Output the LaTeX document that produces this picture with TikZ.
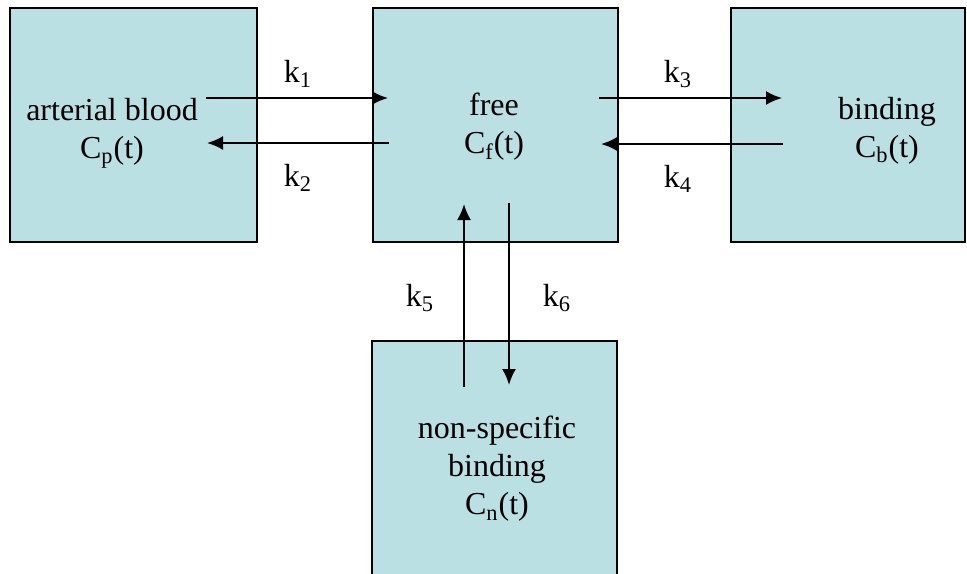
\documentclass[tikz,border=0pt]{standalone}
\usepackage{fontspec}
\setmainfont{Liberation Serif}
\usetikzlibrary{arrows.meta}
\definecolor{boxfill}{RGB}{187,224,227}

\begin{document}
\begin{tikzpicture}[x=0.5pt,y=-0.5pt,>={Latex[length=8pt,width=7pt]},
  box/.style={draw,line width=0.9pt,fill=boxfill,inner sep=0pt},
  lbl/.style={font=\fontsize{16}{19}\selectfont,align=center,inner sep=0pt},
  flow/.style={->,line width=1.1pt}]
  \useasboundingbox (0,0) rectangle (967,573);
  \clip (0,0) rectangle (967,573);
  % 房室
  \node[box,minimum width=123.5pt,minimum height=117pt] (blood) at (133.5,125) {};
  \node[box,minimum width=122.5pt,minimum height=117pt] (free) at (495.5,125) {};
  \node[box,minimum width=117pt,minimum height=117pt] (bound) at (848,125) {};
  \node[box,minimum width=122.5pt,minimum height=130pt] (nonspec) at (494.5,471) {};
  % 文字
  \node[lbl] (bloodtxt) at (112,133) {arterial blood\\C\textsubscript{p}(t)};
  \node[lbl] (freetxt) at (494,127) {free\\C\textsubscript{f}(t)};
  \node[lbl] (boundtxt) at (887,131) {binding\\C\textsubscript{b}(t)};
  \node[lbl] (nonspectxt) at (497,469) {non-specific\\binding\\C\textsubscript{n}(t)};
  % 箭头端点
  \coordinate (a1) at (206,98);  \coordinate (b1) at (388,98);
  \coordinate (a2) at (389,143); \coordinate (b2) at (207,143);
  \coordinate (a3) at (599,98);  \coordinate (b3) at (782,98);
  \coordinate (a4) at (783,144); \coordinate (b4) at (601,144);
  \coordinate (a5) at (464,387); \coordinate (b5) at (464,204);
  \coordinate (a6) at (509,203); \coordinate (b6) at (509,385);
  % 速率常数
  \draw[flow] (a1) -- (b1);
  \draw[flow] (a2) -- (b2);
  \draw[flow] (a3) -- (b3);
  \draw[flow] (a4) -- (b4);
  \draw[flow] (a5) -- (b5);
  \draw[flow] (a6) -- (b6);
  \node[lbl] (k1) at (298,74) {k\textsubscript{1}};
  \node[lbl] (k2) at (298,178) {k\textsubscript{2}};
  \node[lbl] (k3) at (678,74) {k\textsubscript{3}};
  \node[lbl] (k4) at (678,179) {k\textsubscript{4}};
  \node[lbl] (k5) at (420,298) {k\textsubscript{5}};
  \node[lbl] (k6) at (557,298) {k\textsubscript{6}};
\end{tikzpicture}
\end{document}
